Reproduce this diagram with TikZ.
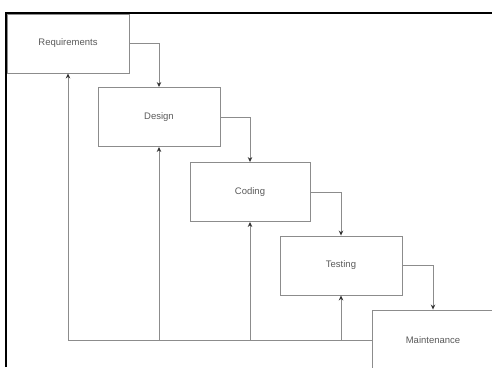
\documentclass[tikz,border=0pt]{standalone}
\usepackage{fontspec}
\setmainfont{Liberation Sans}
\usetikzlibrary{arrows.meta}
\begin{document}
\begin{tikzpicture}[x=1pt,y=-1pt,
  stage/.style={draw=black!45, line width=0.9pt, rectangle, inner sep=0pt,
    minimum width=122pt, minimum height=59pt, font=\fontsize{9.5}{11}\selectfont, text=black!65},
  link/.style={draw=black!45, line width=0.9pt},
  flow/.style={link, -{Stealth[length=5pt,width=4.5pt,black!80]}}]
\useasboundingbox (0,0) rectangle (492,367);
\node[stage] (R) at (68,43.5) {Requirements};
\node[stage] (D) at (159,117) {Design};
\node[stage, minimum width=120pt] (C) at (250,192) {Coding};
\node[stage] (T) at (341,265.5) {Testing};
\node[stage, minimum height=60pt] (M) at (433,340) {Maintenance};
\draw[flow] (R.east) -| (D.north);
\draw[flow] (D.east) -| (C.north);
\draw[flow] (C.east) -| (T.north);
\draw[flow] (T.east) -| (M.north);
\coordinate (f1) at (68,340);
\coordinate (f2) at (159,340);
\coordinate (f3) at (250,340);
\coordinate (f4) at (341,340);
\draw[link] (M.west) -- (f1);
\draw[flow] (f1) -- (f1 |- R.south);
\draw[flow] (f2) -- (f2 |- D.south);
\draw[flow] (f3) -- (f3 |- C.south);
\draw[flow] (f4) -- (f4 |- T.south);
\draw[black, line width=1.6pt] (6,367) -- (6,13) -- (492,13);
\end{tikzpicture}
\end{document}
